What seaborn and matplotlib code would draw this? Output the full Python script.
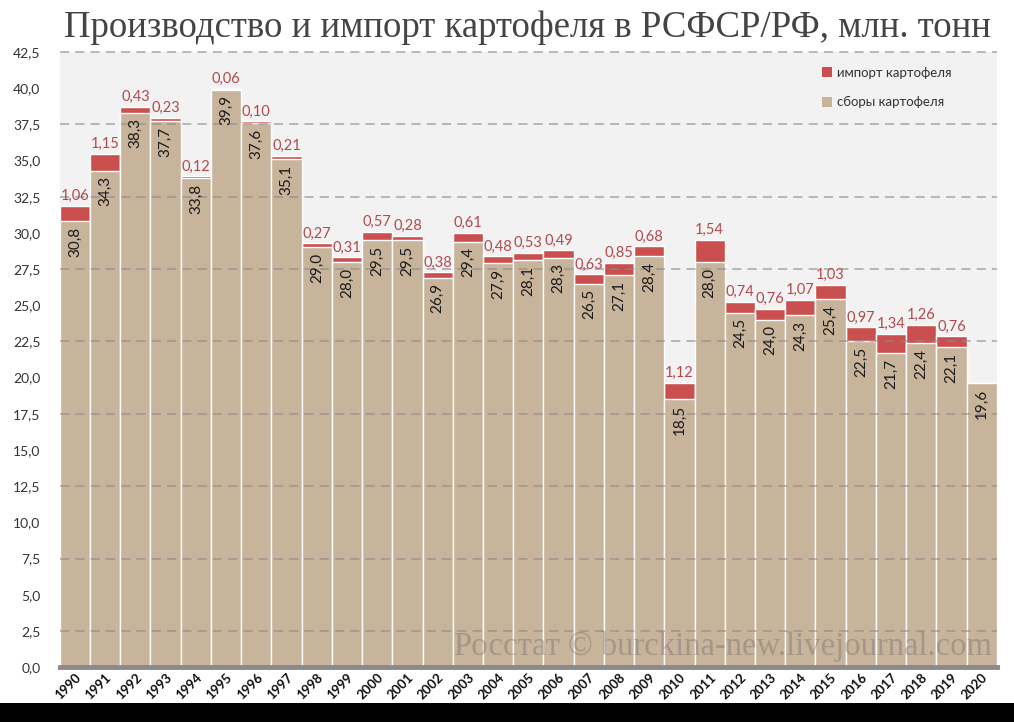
"""Производство и импорт картофеля в РСФСР/РФ — stacked bars"""

import numpy as np
import pandas as pd
import matplotlib
matplotlib.use("Agg")
import matplotlib.pyplot as plt
from matplotlib.patches import Patch, Rectangle
import seaborn as sns

years = list(range(1990, 2021))
harvest = [30.8, 34.3, 38.3, 37.7, 33.8, 39.9, 37.6, 35.1, 29.0, 28.0,
           29.5, 29.5, 26.9, 29.4, 27.9, 28.1, 28.3, 26.5, 27.1, 28.4,
           18.5, 28.0, 24.5, 24.0, 24.3, 25.4, 22.5, 21.7, 22.4, 22.1,
           19.6]
imports = [1.06, 1.15, 0.43, 0.23, 0.12, 0.06, 0.10, 0.21, 0.27, 0.31,
           0.57, 0.28, 0.38, 0.61, 0.48, 0.53, 0.49, 0.63, 0.85, 0.68,
           1.12, 1.54, 0.74, 0.76, 1.07, 1.03, 0.97, 1.34, 1.26, 0.76,
           None]

TITLE = "Производство и импорт картофеля в РСФСР/РФ, млн. тонн"
WATERMARK = "Росстат © burckina-new.livejournal.com"
LBL_IMPORT = "импорт картофеля"
LBL_HARVEST = "сборы картофеля"

TAN = "#c8b39b"
RED = "#c9504f"
RED_TXT = "#b04a4e"

df = pd.DataFrame({"year": [str(y) for y in years], "harvest": harvest,
                   "imports": [v if v is not None else 0.0 for v in imports]})
df["total"] = df["harvest"] + df["imports"]


def fmt(v, nd):
    return f"{v:.{nd}f}".replace(".", ",")


sns.set_style("white")
plt.rcParams["font.family"] = ["Lato", "Noto Sans", "DejaVu Sans"]

fig = plt.figure(figsize=(10.14, 7.22), dpi=100)
ax = fig.add_axes([0.059, 0.076, 0.924, 0.852])
ax.set_facecolor("#f2f2f2")

sns.barplot(data=df, x="year", y="total", color=RED, width=1.0,
            edgecolor="white", linewidth=1, saturation=1, ax=ax, zorder=2)
sns.barplot(data=df, x="year", y="harvest", color=TAN, width=1.0,
            edgecolor="white", linewidth=1, saturation=1, ax=ax, zorder=2)

ax.set_ylim(0, 42.5)
ax.set_xlim(-0.5, len(years) - 0.5)

# пунктирная сетка поверх столбцов
for g in np.arange(2.5, 43, 5):
    ax.axhline(g, color="#8c8c8c", lw=1.1, ls=(0, (6, 4)), alpha=0.75,
               zorder=3, clip_on=False)

# подписи
for i, (h, im, tot) in enumerate(zip(df["harvest"], imports, df["total"])):
    ax.annotate(fmt(h, 1), (i, h), xytext=(0, -4), textcoords="offset points",
                rotation=90, ha="center", va="top", fontsize=11,
                color="#1a1a1a", zorder=4)
    if im is not None:
        ax.annotate(fmt(im, 2), (i, tot), xytext=(0, 2),
                    textcoords="offset points", ha="center", va="bottom",
                    fontsize=10.5, color=RED_TXT, zorder=4)

ax.set_yticks(np.arange(0, 42.6, 2.5))
ax.set_yticklabels([fmt(v, 1) for v in np.arange(0, 42.6, 2.5)],
                   fontsize=10, color="#333333")
ax.set_xticks(range(len(years)))
ax.set_xticklabels(df["year"], rotation=45, ha="right", rotation_mode="anchor",
                   fontsize=9.5, fontweight="bold", color="#111111")
ax.set_xticks(np.arange(-0.5, len(years), 1), minor=True)
ax.tick_params(axis="x", which="major", length=0, pad=3)
ax.tick_params(axis="x", which="minor", length=5, width=2, color="#8a8a8a")
ax.tick_params(axis="y", length=0, pad=14)
ax.set_xlabel("")
ax.set_ylabel("")

for s in ["top", "right", "left"]:
    ax.spines[s].set_visible(False)
ax.spines["bottom"].set_color("#8a8a8a")
ax.spines["bottom"].set_linewidth(3.5)
ax.spines["bottom"].set_zorder(5)

handles = [Patch(facecolor=RED, edgecolor="none", label=LBL_IMPORT),
           Patch(facecolor=TAN, edgecolor="none", label=LBL_HARVEST)]
leg = ax.legend(handles=handles, loc="upper right", bbox_to_anchor=(0.965, 0.995),
                frameon=False, fontsize=9.5, handlelength=0.8, handleheight=0.8,
                handletextpad=0.4, labelspacing=1.3)
for t in leg.get_texts():
    t.set_color("#333333")

ax.text(0.995, 0.008, WATERMARK, transform=ax.transAxes, ha="right",
        va="bottom", fontsize=23.5, family=["Liberation Serif", "DejaVu Serif"],
        color="#6e6e6e", alpha=0.4, zorder=6)

fig.text(0.52, 0.962, TITLE, ha="center", va="center", fontsize=26.5,
         family=["Liberation Serif", "DejaVu Serif"], color="#444444")

fig.patches.append(Rectangle((0, 0), 1, 0.026, transform=fig.transFigure,
                             facecolor="black", edgecolor="none", zorder=0))

fig.savefig("out.png", dpi=100)
